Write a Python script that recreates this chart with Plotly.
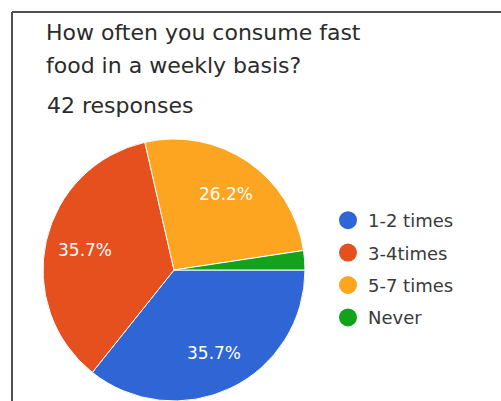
import math
import plotly.graph_objects as go

# ---- data ----
categories = ["1-2 times", "3-4times", "5-7 times", "Never"]
responses = [15, 15, 11, 1]
colors = ["#3065d6", "#e5501e", "#fda520", "#13a21b"]
title_lines = ["How often you consume fast", "food in a weekly basis?"]
subtitle = "42 responses"
min_label_share = 0.05  # slices smaller than this get no label

W, H = 501, 401
FONT = "DejaVu Sans"

def px(x):
    return x / W

def py(y):
    return 1 - y / H

fig = go.Figure()

# pie
cx, cy, r = 174, 270, 131
rotation = 90
fig.add_trace(go.Pie(
    labels=categories,
    values=responses,
    sort=False,
    direction="clockwise",
    rotation=rotation,
    marker=dict(colors=colors, line=dict(color="white", width=1)),
    textinfo="none",
    showlegend=False,
    hoverinfo="label+percent",
    domain=dict(x=[px(cx - r), px(cx + r)], y=[py(cy + r), py(cy - r)]),
))

# percentage labels placed at mid-angle of each slice
annotations = []
total = sum(responses)
start = rotation
for v in responses:
    share = v / total
    mid = start + share * 360 / 2
    start += share * 360
    if share < min_label_share:
        continue
    rr = 0.7 * r
    lx = cx + rr * math.sin(math.radians(mid))
    ly = cy - rr * math.cos(math.radians(mid))
    annotations.append(dict(
        text=f"{share * 100:.1f}%", x=px(lx), y=py(ly), xref="paper", yref="paper",
        xanchor="center", yanchor="middle", showarrow=False,
        font=dict(family=FONT, size=17, color="white"),
    ))

# legend entries as circles
for name, col in zip(categories, colors):
    fig.add_trace(go.Scatter(
        x=[None], y=[None], mode="markers", name=name,
        legendgroup=name,
        marker=dict(color=col, size=16, symbol="circle", line=dict(color=col, width=2)),
    ))

title_y = [32, 65]
for t, yy in zip(title_lines, title_y):
    annotations.append(dict(
        text=t, x=px(44), y=py(yy), xref="paper", yref="paper",
        xanchor="left", yanchor="middle", showarrow=False,
        font=dict(family=FONT, size=22, color="#2b2b2b"),
    ))
annotations.append(dict(
    text=subtitle, x=px(45), y=py(106), xref="paper", yref="paper",
    xanchor="left", yanchor="middle", showarrow=False,
    font=dict(family=FONT, size=22, color="#2b2b2b"),
))

shapes = [
    dict(type="line", xref="paper", yref="paper", x0=px(12), x1=1, y0=py(12), y1=py(12),
         line=dict(color="#505050", width=2)),
    dict(type="line", xref="paper", yref="paper", x0=px(12), x1=px(12), y0=py(12), y1=0,
         line=dict(color="#505050", width=2)),
]

fig.update_layout(
    width=W, height=H,
    margin=dict(l=0, r=0, t=0, b=0),
    paper_bgcolor="white",
    plot_bgcolor="white",
    xaxis=dict(visible=False),
    yaxis=dict(visible=False),
    annotations=annotations,
    shapes=shapes,
    legend=dict(
        x=px(328), y=py(202), xanchor="left", yanchor="top",
        font=dict(family=FONT, size=18, color="#3a3a3a"),
        tracegroupgap=6,
        bgcolor="rgba(0,0,0,0)",
        itemsizing="trace",
    ),
)

fig.write_html("out.html")
